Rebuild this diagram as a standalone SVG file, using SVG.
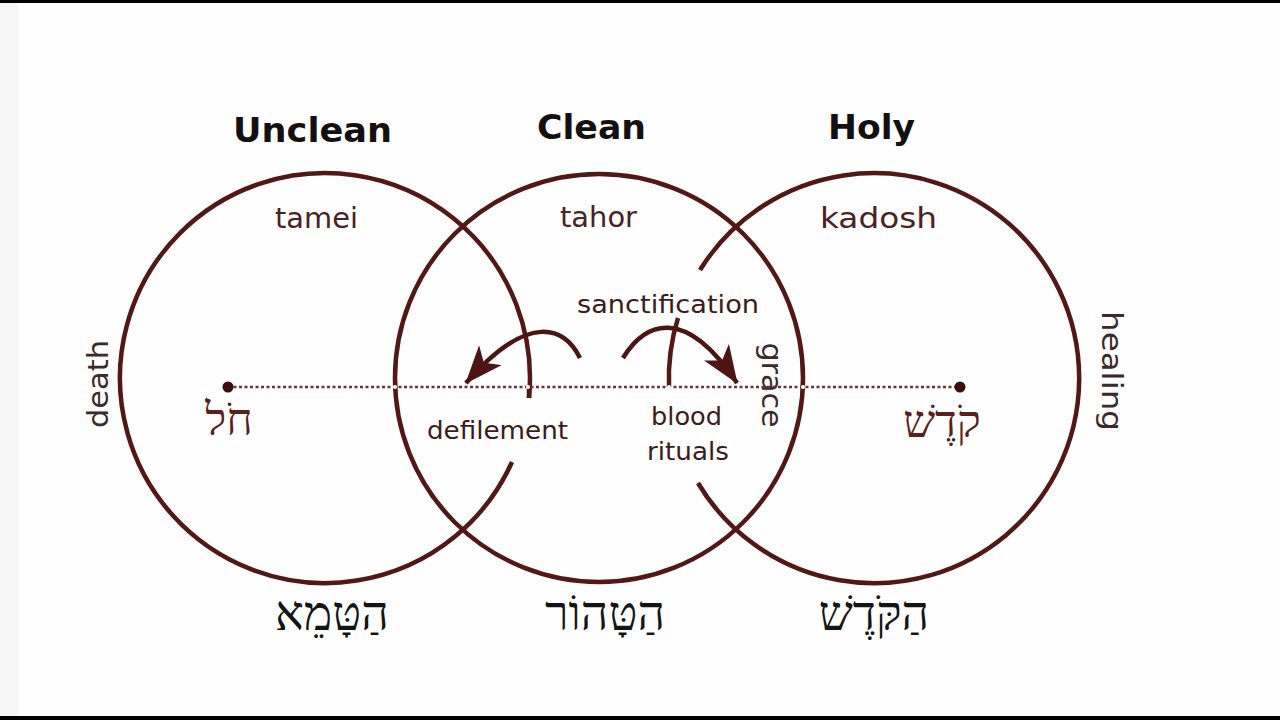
<svg xmlns="http://www.w3.org/2000/svg" width="1280" height="720" viewBox="0 0 1280 720">
  <defs>
    <marker id="ah" viewBox="0 0 38 30" refX="37" refY="15" markerWidth="38" markerHeight="30" markerUnits="userSpaceOnUse" orient="auto">
      <path d="M0,0 L38,15 L0,30 L10,15 z" fill="#4d1414"/>
    </marker>
  </defs>
  <style>
    .ring { fill: none; stroke: #521818; stroke-width: 4.5; }
    .arr { fill: none; stroke: #4d1414; stroke-width: 4.5; }
    .title { font-family: "DejaVu Sans", "Liberation Sans", sans-serif; font-weight: bold; font-size: 34px; fill: #151010; }
    .lbl { font-family: "DejaVu Sans", "Liberation Sans", sans-serif; font-size: 28px; fill: #4a2222; }
    .sm { font-family: "DejaVu Sans", "Liberation Sans", sans-serif; font-size: 25px; fill: #3a1c1c; }
    .side { font-family: "DejaVu Sans", "Liberation Sans", sans-serif; font-size: 28px; fill: #3a2a2a; }
    .heb { font-family: "Liberation Serif", "DejaVu Serif", serif; font-size: 48px; fill: #141414; text-anchor: middle; }
    .hebin { font-family: "Liberation Serif", "DejaVu Serif", serif; font-size: 45px; fill: #5a1e1e; text-anchor: middle; }
  </style>

  <rect x="0" y="0" width="1280" height="720" fill="#fefefe"/>
  <rect x="0" y="0" width="18" height="720" fill="#f6f6f6"/>
  <rect x="0" y="0" width="1280" height="3" fill="#000"/>
  <rect x="0" y="716" width="1280" height="4" fill="#000"/>

  <g id="titles">
    <text class="title" x="233" y="142" textLength="159" lengthAdjust="spacingAndGlyphs">Unclean</text>
    <text class="title" x="537" y="139" textLength="109" lengthAdjust="spacingAndGlyphs">Clean</text>
    <text class="title" x="828" y="139" textLength="87" lengthAdjust="spacingAndGlyphs">Holy</text>
  </g>

  <g id="circle-unclean">
    <path class="ring" d="M 512 462 A 205 205 0 1 1 529 398"/>
    <text class="lbl" x="275" y="228" textLength="83" lengthAdjust="spacingAndGlyphs">tamei</text>
    <text class="side" transform="translate(98 384) rotate(-90)" text-anchor="middle" dominant-baseline="central" textLength="88" lengthAdjust="spacingAndGlyphs">death</text>
    <text class="hebin" x="229" y="435">חֹל</text>
    <text class="heb" x="332" y="630">הַטָּמֵא</text>
  </g>

  <g id="circle-clean">
    <circle class="ring" cx="599" cy="378" r="204"/>
    <text class="lbl" x="560" y="227" textLength="77" lengthAdjust="spacingAndGlyphs">tahor</text>
    <text class="side" transform="translate(771 385) rotate(90)" text-anchor="middle" dominant-baseline="central" textLength="85" lengthAdjust="spacingAndGlyphs">grace</text>
    <text class="heb" x="605" y="630">הַטָּהוֹר</text>
  </g>

  <g id="circle-holy">
    <path class="ring" d="M 700 270 A 205 205 0 1 1 698 483"/>
    <path class="ring" d="M 678 318 A 205 205 0 0 0 669 387"/>
    <text class="lbl" x="820" y="228" textLength="117" lengthAdjust="spacingAndGlyphs">kadosh</text>
    <text class="side" transform="translate(1111 371) rotate(90)" text-anchor="middle" dominant-baseline="central" textLength="120" lengthAdjust="spacingAndGlyphs">healing</text>
    <text class="hebin" x="942" y="437">קֹדֶשׁ</text>
    <text class="heb" x="874" y="630">הַקֹּדֶשׁ</text>
  </g>

  <g id="connectors">
    <line x1="228" y1="387" x2="960" y2="387" stroke="#6a3434" stroke-width="2.5" stroke-dasharray="3 2.5"/>
    <circle cx="228" cy="387" r="5.5" fill="#3d0e0e"/>
    <circle cx="960" cy="387" r="5.5" fill="#3d0e0e"/>
    <path class="ring" d="M 529 387 L 529 398"/>
    <circle cx="395" cy="387" r="2" fill="#fff"/>
    <circle cx="528" cy="387" r="2" fill="#fff"/>
    <circle cx="669" cy="387" r="2" fill="#fff"/>
    <circle cx="803" cy="387" r="2" fill="#fff"/>
    <path class="arr" d="M 580 358 C 565 328 530 310 466 383" marker-end="url(#ah)"/>
    <path class="arr" d="M 623 358 C 645 322 685 305 737 383" marker-end="url(#ah)"/>
  </g>

  <g id="mid-labels">
    <text class="sm" x="577" y="313" textLength="182" lengthAdjust="spacingAndGlyphs">sanctification</text>
    <text class="sm" x="427" y="439" textLength="141" lengthAdjust="spacingAndGlyphs">defilement</text>
    <text class="sm" x="651" y="425" textLength="71" lengthAdjust="spacingAndGlyphs">blood</text>
    <text class="sm" x="647" y="460" textLength="82" lengthAdjust="spacingAndGlyphs">rituals</text>
  </g>
</svg>
